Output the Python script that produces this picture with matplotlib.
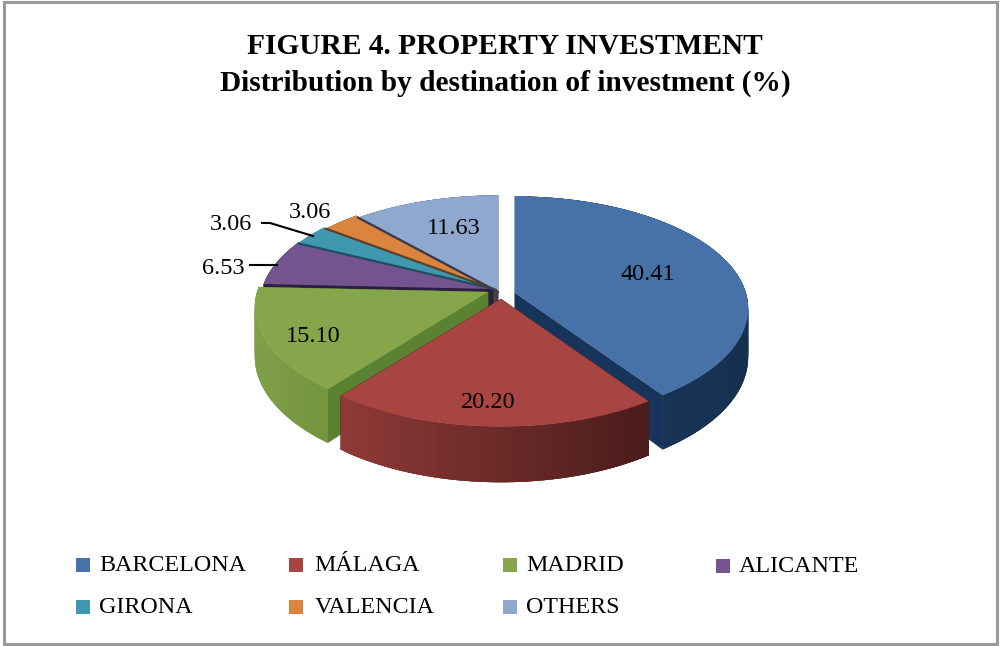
import matplotlib
matplotlib.use("Agg")
import matplotlib.pyplot as plt
import numpy as np
from matplotlib.colors import to_rgb
from matplotlib.patches import Polygon, Rectangle

CATEGORIES = ["BARCELONA", "MÁLAGA", "MADRID", "ALICANTE", "GIRONA", "VALENCIA", "OTHERS"]
VALUES = [40.41, 20.20, 15.10, 6.53, 3.06, 3.06, 11.63]
LABELS = ["40.41", "20.20", "15.10", "6.53", "3.06", "3.06", "11.63"]
COLORS = ["#4672A8", "#A84542", "#87A64B", "#73548F", "#3F98B0", "#DB843D", "#8FA8D0"]
CUT = ["#17345A", "#4A1C1B", "#5A8230", "#2C1E40", "#1F4E60", "#5A4228", "#3A3A50"]
WALL_LEFT = ["#1B3A60", "#8F3A37", "#7F9F48", "#2C1E40", "#2A6578", "#9A5C28", "#5C7094"]
WALL_RIGHT = ["#16304F", "#4A1C1B", "#74953F", "#2C1E40", "#2A6578", "#9A5C28", "#5C7094"]

CX, CY = 497, 290
RX, RY = 231, 110
PERSPECTIVE = 0.138
DEPTH = 48
OFFSETS = [(18, 3), (4, 9), (-9, 2), (-4, -1), (-3, -1), (-1, 0), (1, 2)]

LABEL_POS = [(648, 274), (488, 403), (313, 336), (223, 268), (231, 224), (310, 212), (454, 228)]
LEGEND_POS = [(76, 565), (289, 565), (503, 565), (716, 566), (76, 607), (289, 607), (503, 607)]
LEGEND_TEXT_X = [99, 314, 526, 739, 99, 315, 526]


def project(angle, off):
    # angle runs clockwise from the far side of the disc
    scale = 1 / (1 + PERSPECTIVE * np.cos(angle))
    x = CX + off[0] + RX * np.sin(angle) * scale
    y = CY + off[1] - RY * np.cos(angle) * scale
    return x, y, DEPTH * scale


def draw_slice(ax, a0, a1, off, i):
    apex = (CX + off[0], CY + off[1])
    for a in (a1, a0):
        x, y, d = project(a, off)
        ax.add_patch(Polygon([apex, (x, y), (x, y + d), (apex[0], apex[1] + DEPTH)],
                             fc=CUT[i], ec=CUT[i], lw=0.3))

    t = np.linspace(a0, a1, 90)
    xs, ys, ds = project(t, off)

    # outer wall as overlapping strips so the shading can run along it
    left, right = np.array(to_rgb(WALL_LEFT[i])), np.array(to_rgb(WALL_RIGHT[i]))
    xmin, xmax = xs.min(), xs.max()
    steps = range(len(t) - 1) if xs[0] < xs[-1] else range(len(t) - 2, -1, -1)
    for k in steps:
        frac = (xs[k] - xmin) / (xmax - xmin)
        color = left + (right - left) * frac
        j = min(k + 3, len(t) - 1) if xs[0] < xs[-1] else k + 1
        h = k if xs[0] < xs[-1] else max(k - 2, 0)
        quad = [(xs[h], ys[h]), (xs[j], ys[j]), (xs[j], ys[j] + ds[j]), (xs[h], ys[h] + ds[h])]
        ax.add_patch(Polygon(quad, fc=color, ec="none"))

    top = np.vstack([apex, np.column_stack([xs, ys])])
    ax.add_patch(Polygon(top, fc=COLORS[i], ec="none"))


def main():
    fig = plt.figure(figsize=(10, 6.46), dpi=100, facecolor="white")
    ax = fig.add_axes([0, 0, 1, 1])
    ax.set_xlim(0, 1000)
    ax.set_ylim(646, 0)
    ax.axis("off")

    ax.add_patch(Rectangle((4, 2), 993, 642, fill=False, ec="#9A9A9A", lw=2.2))

    ax.text(505, 47, "FIGURE 4. PROPERTY INVESTMENT", ha="center", va="center",
            family="Liberation Serif", weight="bold", fontsize=21.2)
    ax.text(505, 83, "Distribution by destination of investment (%)", ha="center", va="center",
            family="Liberation Serif", weight="bold", fontsize=21.2)

    edges = np.concatenate([[0], np.cumsum(VALUES)]) / sum(VALUES) * 2 * np.pi
    mids = (edges[:-1] + edges[1:]) / 2

    # far slices first, nearer ones paint over them
    for i in np.argsort(-np.cos(mids)):
        draw_slice(ax, edges[i], edges[i + 1], OFFSETS[i], i)

    # dark seams between the narrow slices at the back
    for i in (4, 5, 6):
        x, y, _ = project(edges[i], OFFSETS[i])
        ax.plot([CX + OFFSETS[i][0], x], [CY + OFFSETS[i][1], y], color=CUT[i], lw=1.6)

    for text, (x, y) in zip(LABELS, LABEL_POS):
        ax.text(x, y, text, ha="center", va="center", family="Liberation Serif", fontsize=17.5)
    ax.plot([250, 277], [265, 265], color="black", lw=1.5)
    ax.plot([262, 270, 313], [223, 223, 236], color="black", lw=1.5)

    for i, (x, y) in enumerate(LEGEND_POS):
        ax.add_patch(Rectangle((x, y - 7), 14, 14, fc=COLORS[i], ec="none"))
        ax.text(LEGEND_TEXT_X[i], y + 0.5, CATEGORIES[i], va="center",
                family="Liberation Serif", fontsize=17.3)

    fig.savefig("out.png", dpi=100)


if __name__ == "__main__":
    main()
